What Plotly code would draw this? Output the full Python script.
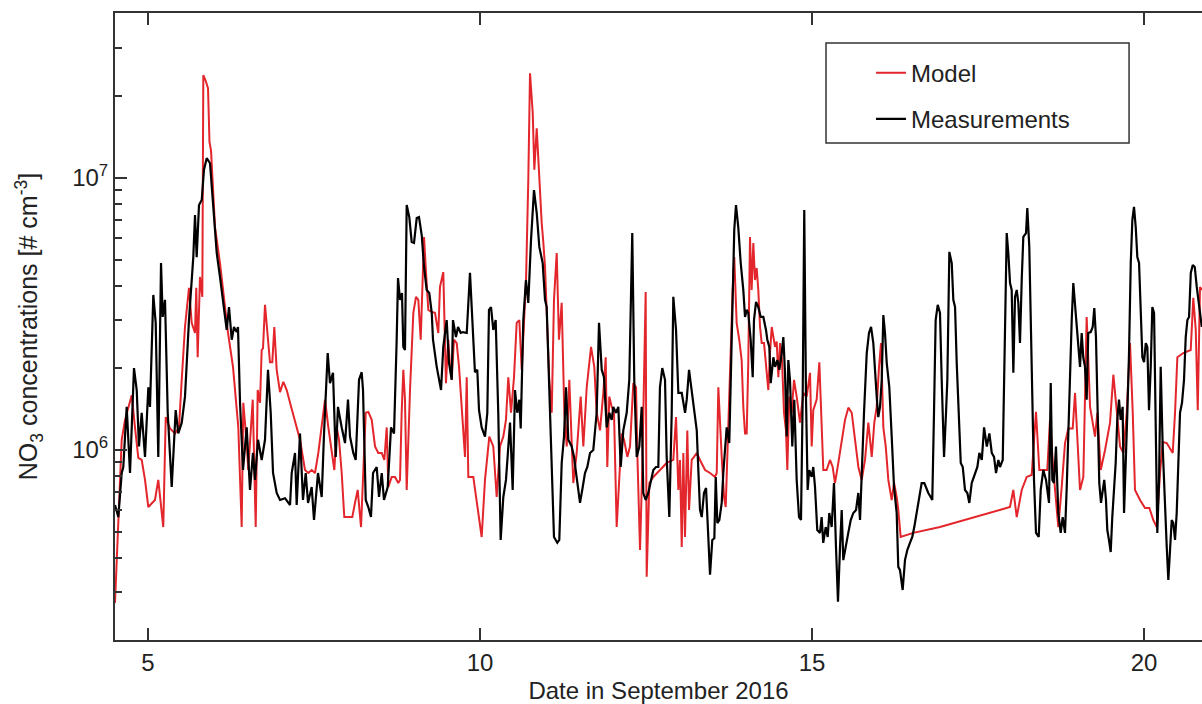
import plotly.graph_objects as go

# ---------------- data (days in September 2016, NO3 in # cm^-3) ----------------
meas_day = [
    4.503, 4.553, 4.604, 4.628, 4.679, 4.729, 4.789, 4.830, 4.864, 4.905,
    4.955, 5.005, 5.030, 5.080, 5.116, 5.155, 5.196, 5.221, 5.256, 5.297,
    5.357, 5.417, 5.456, 5.508, 5.557, 5.617, 5.682, 5.708, 5.733, 5.768,
    5.809, 5.843, 5.884, 5.934, 5.979, 6.035, 6.084, 6.145, 6.185, 6.220,
    6.261, 6.295, 6.336, 6.355, 6.386, 6.431, 6.486, 6.536, 6.581, 6.611,
    6.657, 6.712, 6.762, 6.807, 6.848, 6.883, 6.938, 6.988, 7.063, 7.139,
    7.164, 7.214, 7.239, 7.289, 7.334, 7.375, 7.410, 7.465, 7.500, 7.560,
    7.616, 7.651, 7.706, 7.741, 7.786, 7.827, 7.861, 7.917, 7.967, 8.012,
    8.042, 8.092, 8.128, 8.178, 8.218, 8.238, 8.279, 8.318, 8.358, 8.389,
    8.444, 8.479, 8.520, 8.554, 8.610, 8.660, 8.705, 8.745, 8.765, 8.795,
    8.825, 8.845, 8.870, 8.896, 8.935, 8.971, 9.006, 9.047, 9.081, 9.122,
    9.157, 9.197, 9.236, 9.273, 9.292, 9.348, 9.382, 9.413, 9.447, 9.498,
    9.533, 9.574, 9.593, 9.638, 9.669, 9.709, 9.744, 9.800, 9.849, 9.890,
    9.924, 9.959, 9.985, 10.025, 10.075, 10.110, 10.135, 10.166, 10.200, 10.236,
    10.275, 10.311, 10.351, 10.391, 10.426, 10.452, 10.492, 10.527, 10.561, 10.592,
    10.613, 10.652, 10.692, 10.727, 10.768, 10.813, 10.854, 10.893, 10.944, 10.979,
    11.004, 11.043, 11.080, 11.114, 11.164, 11.194, 11.230, 11.265, 11.295, 11.330,
    11.381, 11.416, 11.441, 11.480, 11.506, 11.547, 11.581, 11.616, 11.657, 11.706,
    11.757, 11.792, 11.833, 11.867, 11.908, 11.947, 11.983, 12.007, 12.048, 12.083,
    12.119, 12.158, 12.209, 12.248, 12.293, 12.323, 12.360, 12.399, 12.435, 12.459,
    12.495, 12.534, 12.570, 12.610, 12.650, 12.685, 12.710, 12.745, 12.786, 12.811,
    12.851, 12.887, 12.911, 12.952, 12.987, 13.038, 13.088, 13.113, 13.148, 13.188,
    13.223, 13.264, 13.288, 13.313, 13.339, 13.373, 13.404, 13.438, 13.464, 13.498,
    13.529, 13.550, 13.574, 13.604, 13.640, 13.664, 13.690, 13.715, 13.754, 13.775,
    13.805, 13.829, 13.855, 13.889, 13.926, 13.965, 13.991, 14.016, 14.040, 14.076,
    14.107, 14.126, 14.157, 14.191, 14.227, 14.267, 14.307, 14.327, 14.357, 14.378,
    14.418, 14.443, 14.478, 14.508, 14.544, 14.568, 14.593, 14.619, 14.643, 14.668,
    14.703, 14.733, 14.769, 14.804, 14.834, 14.859, 14.883, 14.909, 14.934, 14.958,
    14.995, 15.019, 15.045, 15.079, 15.120, 15.145, 15.169, 15.206, 15.236, 15.260,
    15.296, 15.331, 15.361, 15.391, 15.422, 15.447, 15.471, 15.512, 15.546, 15.583,
    15.622, 15.663, 15.697, 15.723, 15.748, 15.783, 15.824, 15.858, 15.889, 15.923,
    15.974, 15.998, 16.024, 16.050, 16.074, 16.099, 16.125, 16.164, 16.200, 16.235,
    16.275, 16.299, 16.325, 16.365, 16.400, 16.435, 16.475, 16.510, 16.540, 16.576,
    16.615, 16.651, 16.691, 16.727, 16.751, 16.787, 16.811, 16.837, 16.862, 16.893,
    16.927, 16.953, 16.988, 17.018, 17.038, 17.068, 17.104, 17.128, 17.154, 17.179,
    17.214, 17.240, 17.270, 17.304, 17.339, 17.369, 17.405, 17.455, 17.490, 17.520,
    17.557, 17.591, 17.632, 17.671, 17.707, 17.741, 17.771, 17.806, 17.831, 17.872,
    17.891, 17.917, 17.932, 17.956, 17.982, 18.007, 18.032, 18.057, 18.083, 18.107,
    18.132, 18.158, 18.182, 18.223, 18.242, 18.272, 18.308, 18.343, 18.373, 18.414,
    18.444, 18.483, 18.524, 18.550, 18.569, 18.595, 18.619, 18.644, 18.674, 18.709,
    18.745, 18.775, 18.810, 18.836, 18.860, 18.885, 18.911, 18.935, 18.961, 18.986,
    19.010, 19.036, 19.061, 19.085, 19.111, 19.136, 19.160, 19.197, 19.227, 19.251,
    19.276, 19.302, 19.326, 19.352, 19.377, 19.401, 19.427, 19.447, 19.472, 19.498,
    19.522, 19.548, 19.573, 19.597, 19.623, 19.648, 19.678, 19.699, 19.718, 19.749,
    19.774, 19.800, 19.824, 19.849, 19.875, 19.899, 19.925, 19.950, 19.975, 20.000,
    20.026, 20.050, 20.075, 20.101, 20.125, 20.151, 20.176, 20.200, 20.226, 20.251,
    20.281, 20.316, 20.342, 20.366, 20.392, 20.417, 20.441, 20.467, 20.492, 20.517,
    20.542, 20.572, 20.602, 20.628, 20.653, 20.678, 20.704, 20.734, 20.764, 20.794,
    20.834, 20.870,
]
meas_conc = [
    6.28e5, 5.67e5, 8.23e5, 8.66e5, 1.44e6, 8.23e5, 2.00e6, 1.66e6, 1.03e6, 1.37e6,
    9.43e5, 1.70e6, 1.44e6, 3.71e6, 2.93e6, 9.43e5, 4.86e6, 3.08e6, 3.56e6, 1.37e6,
    7.31e5, 1.40e6, 1.15e6, 1.26e6, 1.57e6, 3.00e6, 5.11e6, 7.29e6, 5.11e6, 7.94e6,
    8.28e6, 1.07e7, 1.18e7, 1.13e7, 8.07e6, 5.29e6, 4.32e6, 3.27e6, 2.76e6, 3.35e6,
    2.54e6, 2.83e6, 2.71e6, 2.83e6, 1.49e6, 8.44e5, 1.21e6, 7.13e5, 9.75e5, 7.76e5,
    1.09e6, 9.19e5, 1.09e6, 1.97e6, 1.37e6, 8.23e5, 6.95e5, 6.55e5, 6.65e5, 6.28e5,
    8.23e5, 9.75e5, 6.28e5, 1.15e6, 6.55e5, 8.23e5, 6.39e5, 7.31e5, 5.53e5, 8.23e5,
    6.72e5, 1.15e6, 2.27e6, 1.76e6, 1.92e6, 9.43e5, 1.44e6, 1.21e6, 1.06e6, 1.53e6,
    1.12e6, 9.75e5, 9.19e5, 1.81e6, 1.93e6, 1.66e6, 6.55e5, 6.17e5, 5.67e5, 8.23e5,
    8.66e5, 6.72e5, 8.23e5, 6.55e5, 7.31e5, 1.21e6, 1.15e6, 2.54e6, 4.28e6, 3.56e6,
    3.77e6, 2.39e6, 2.33e6, 7.94e6, 7.17e6, 5.81e6, 5.76e6, 7.11e6, 7.17e6, 6.16e6,
    4.70e6, 3.87e6, 3.77e6, 3.19e6, 2.54e6, 2.02e6, 1.81e6, 1.66e6, 2.39e6, 3.00e6,
    2.09e6, 1.81e6, 3.00e6, 2.60e6, 2.83e6, 2.69e6, 2.71e6, 2.69e6, 4.47e6, 2.83e6,
    1.93e6, 1.97e6, 1.40e6, 1.21e6, 1.12e6, 1.37e6, 3.27e6, 3.35e6, 2.76e6, 3.00e6,
    1.37e6, 4.67e5, 6.72e5, 7.76e5, 1.09e6, 1.26e6, 7.13e5, 1.66e6, 1.37e6, 1.53e6,
    1.20e6, 3.00e6, 4.21e6, 3.47e6, 5.90e6, 9.01e6, 7.42e6, 5.57e6, 4.86e6, 3.56e6,
    3.35e6, 1.70e6, 9.43e5, 4.79e5, 4.56e5, 4.67e5, 8.96e5, 1.12e6, 1.70e6, 1.09e6,
    1.03e6, 9.43e5, 8.44e5, 6.95e5, 6.39e5, 7.31e5, 8.23e5, 8.66e5, 9.75e5, 1.00e6,
    1.37e6, 2.93e6, 1.97e6, 1.85e6, 1.21e6, 1.37e6, 1.29e6, 1.44e6, 1.37e6, 1.44e6,
    8.66e5, 1.18e6, 1.37e6, 1.81e6, 6.26e6, 1.81e6, 9.43e5, 1.03e6, 1.44e6, 6.95e5,
    6.55e5, 6.95e5, 7.56e5, 8.44e5, 8.66e5, 8.66e5, 1.70e6, 2.00e6, 1.81e6, 9.43e5,
    5.67e5, 1.37e6, 3.65e6, 2.76e6, 1.62e6, 1.62e6, 1.37e6, 1.53e6, 1.97e6, 1.62e6,
    1.44e6, 1.18e6, 8.44e5, 6.02e5, 5.67e5, 6.95e5, 7.25e5, 5.08e5, 3.48e5, 4.67e5,
    4.74e5, 7.96e5, 5.39e5, 5.53e5, 6.39e5, 8.23e5, 1.03e6, 1.21e6, 1.06e6, 1.81e6,
    3.87e6, 6.43e6, 7.94e6, 6.59e6, 4.86e6, 3.87e6, 3.08e6, 3.27e6, 3.19e6, 2.54e6,
    1.85e6, 3.00e6, 3.50e6, 3.35e6, 3.08e6, 3.08e6, 2.76e6, 2.54e6, 2.39e6, 1.76e6,
    2.19e6, 2.02e6, 2.14e6, 1.97e6, 2.27e6, 2.60e6, 1.92e6, 1.12e6, 2.14e6, 1.81e6,
    1.03e6, 1.53e6, 7.76e5, 5.67e5, 5.53e5, 1.53e6, 7.61e6, 1.57e6, 7.13e5, 8.44e5,
    7.96e5, 8.66e5, 7.31e5, 5.08e5, 4.96e5, 5.67e5, 4.56e5, 5.21e5, 4.79e5, 5.87e5,
    5.21e5, 7.56e5, 4.40e5, 2.77e5, 4.40e5, 6.02e5, 3.94e5, 4.56e5, 4.96e5, 5.53e5,
    5.87e5, 6.02e5, 6.95e5, 5.53e5, 8.66e5, 1.37e6, 2.27e6, 2.69e6, 2.83e6, 2.47e6,
    1.57e6, 1.32e6, 1.44e6, 1.81e6, 3.13e6, 2.69e6, 2.09e6, 1.70e6, 1.12e6, 7.31e5,
    5.87e5, 3.72e5, 3.62e5, 3.06e5, 3.94e5, 4.29e5, 4.56e5, 4.79e5, 5.21e5, 5.87e5,
    6.55e5, 7.56e5, 7.56e5, 7.13e5, 6.95e5, 6.72e5, 6.55e5, 1.37e6, 3.00e6, 3.41e6,
    3.19e6, 1.81e6, 9.43e5, 1.37e6, 1.81e6, 5.34e6, 4.86e6, 3.56e6, 3.35e6, 2.09e6,
    1.15e6, 8.96e5, 8.66e5, 7.13e5, 6.95e5, 6.39e5, 7.56e5, 8.23e5, 8.66e5, 9.75e5,
    9.19e5, 1.21e6, 1.03e6, 1.15e6, 9.75e5, 9.43e5, 8.23e5, 9.19e5, 8.66e5, 9.19e5,
    1.85e6, 4.21e6, 6.26e6, 5.29e6, 4.10e6, 3.87e6, 1.92e6, 3.65e6, 3.87e6, 3.47e6,
    2.47e6, 4.21e6, 6.06e6, 6.26e6, 7.74e6, 5.57e6, 1.81e6, 7.76e5, 4.96e5, 4.79e5,
    7.13e5, 8.44e5, 7.76e5, 6.72e5, 6.39e5, 1.76e6, 7.76e5, 7.56e5, 1.03e6, 5.87e5,
    4.96e5, 5.67e5, 4.96e5, 7.31e5, 1.21e6, 1.85e6, 3.00e6, 4.10e6, 3.47e6, 2.93e6,
    2.54e6, 2.02e6, 2.69e6, 2.19e6, 2.02e6, 1.53e6, 2.69e6, 2.71e6, 2.83e6, 3.32e6,
    2.60e6, 1.44e6, 7.56e5, 6.39e5, 6.95e5, 7.76e5, 6.55e5, 5.08e5, 4.67e5, 4.22e5,
    5.67e5, 7.13e5, 8.96e5, 1.29e6, 1.53e6, 1.29e6, 1.44e6, 5.87e5, 7.76e5, 1.37e6,
    2.27e6, 4.86e6, 6.99e6, 7.81e6, 6.59e6, 5.11e6, 4.86e6, 3.19e6, 2.19e6, 2.10e6,
    2.47e6, 2.39e6, 1.40e6, 2.02e6, 3.35e6, 3.19e6, 1.37e6, 4.96e5, 7.76e5, 2.02e6,
    1.03e6, 5.87e5, 4.40e5, 3.33e5, 4.40e5, 5.53e5, 5.39e5, 4.67e5, 5.87e5, 9.75e5,
    1.37e6, 1.49e6, 1.81e6, 2.60e6, 3.00e6, 3.08e6, 4.47e6, 4.78e6, 4.70e6, 3.97e6,
    3.35e6, 2.83e6,
]

model_day = [
    4.503, 4.544, 4.604, 4.654, 4.703, 4.755, 4.804, 4.854, 4.905, 4.955,
    5.005, 5.056, 5.105, 5.155, 5.230, 5.267, 5.331, 5.407, 5.467, 5.508,
    5.557, 5.617, 5.658, 5.708, 5.727, 5.748, 5.783, 5.818, 5.833, 5.866,
    5.904, 5.926, 5.949, 6.009, 6.084, 6.160, 6.205, 6.280, 6.360, 6.411,
    6.435, 6.486, 6.510, 6.577, 6.622, 6.652, 6.687, 6.712, 6.732, 6.762,
    6.803, 6.837, 6.872, 6.902, 6.938, 6.988, 7.038, 7.089, 7.139, 7.214,
    7.289, 7.364, 7.414, 7.465, 7.515, 7.565, 7.616, 7.666, 7.716, 7.767,
    7.806, 7.842, 7.877, 7.917, 7.956, 8.012, 8.077, 8.117, 8.158, 8.208,
    8.242, 8.279, 8.318, 8.369, 8.419, 8.468, 8.520, 8.559, 8.595, 8.619,
    8.670, 8.720, 8.769, 8.795, 8.820, 8.845, 8.870, 8.896, 8.946, 8.996,
    9.036, 9.071, 9.107, 9.137, 9.157, 9.187, 9.221, 9.273, 9.322, 9.372,
    9.397, 9.447, 9.487, 9.522, 9.548, 9.574, 9.608, 9.649, 9.684, 9.724,
    9.774, 9.800, 9.824, 9.899, 9.950, 10.025, 10.075, 10.140, 10.200, 10.251,
    10.301, 10.351, 10.391, 10.426, 10.467, 10.512, 10.552, 10.592, 10.628, 10.663,
    10.693, 10.727, 10.738, 10.753, 10.794, 10.818, 10.854, 10.893, 10.929, 10.953,
    10.979, 11.013, 11.043, 11.080, 11.114, 11.155, 11.189, 11.230, 11.270, 11.306,
    11.345, 11.381, 11.405, 11.456, 11.516, 11.556, 11.607, 11.672, 11.721, 11.757,
    11.807, 11.857, 11.893, 11.917, 11.947, 11.983, 12.018, 12.058, 12.098, 12.134,
    12.169, 12.219, 12.259, 12.309, 12.350, 12.369, 12.410, 12.444, 12.495, 12.510,
    12.550, 12.610, 12.711, 12.811, 12.911, 12.952, 12.987, 13.012, 13.038, 13.062,
    13.087, 13.122, 13.148, 13.188, 13.223, 13.264, 13.313, 13.389, 13.464, 13.539,
    13.565, 13.589, 13.640, 13.675, 13.700, 13.740, 13.775, 13.805, 13.829, 13.865,
    13.904, 13.940, 13.965, 13.991, 14.016, 14.040, 14.066, 14.091, 14.116, 14.141,
    14.167, 14.191, 14.217, 14.242, 14.277, 14.307, 14.342, 14.367, 14.393, 14.418,
    14.443, 14.468, 14.493, 14.518, 14.548, 14.578, 14.608, 14.628, 14.658, 14.693,
    14.729, 14.769, 14.819, 14.869, 14.919, 14.970, 14.995, 15.019, 15.070, 15.110,
    15.135, 15.170, 15.220, 15.271, 15.311, 15.346, 15.396, 15.447, 15.497, 15.547,
    15.598, 15.648, 15.698, 15.748, 15.798, 15.848, 15.899, 15.938, 15.974, 16.009,
    16.039, 16.074, 16.110, 16.149, 16.200, 16.235, 16.275, 16.299, 16.335, 16.526,
    16.927, 17.981, 18.031, 18.083, 18.158, 18.233, 18.308, 18.373, 18.423, 18.543,
    18.584, 18.634, 18.709, 18.760, 18.810, 18.860, 18.926, 18.961, 18.996, 19.036,
    19.086, 19.136, 19.187, 19.262, 19.297, 19.348, 19.413, 19.488, 19.538, 19.588,
    19.639, 19.689, 19.739, 19.789, 19.830, 19.864, 19.940, 20.015, 20.080, 20.140,
    20.191, 20.241, 20.281, 20.342, 20.432, 20.467, 20.502, 20.592, 20.703, 20.742,
    20.779, 20.809, 20.843, 20.873,
]
model_conc = [
    2.74e5, 4.67e5, 1.09e6, 1.29e6, 1.44e6, 1.59e6, 1.21e6, 9.35e5, 9.19e5, 7.76e5,
    6.17e5, 6.39e5, 6.55e5, 7.76e5, 5.21e5, 1.32e6, 1.20e6, 1.15e6, 1.21e6, 1.81e6,
    2.83e6, 3.94e6, 2.93e6, 2.69e6, 3.94e6, 2.19e6, 4.32e6, 3.65e6, 2.38e7, 2.28e7,
    2.13e7, 1.35e7, 1.26e7, 6.59e6, 4.86e6, 3.35e6, 2.69e6, 2.02e6, 1.21e6, 5.21e5,
    1.49e6, 1.06e6, 8.44e5, 1.53e6, 5.21e5, 1.66e6, 1.49e6, 2.33e6, 2.36e6, 3.41e6,
    2.54e6, 2.10e6, 2.10e6, 2.83e6, 1.97e6, 1.63e6, 1.78e6, 1.66e6, 1.49e6, 1.26e6,
    1.09e6, 8.44e5, 8.23e5, 8.44e5, 8.23e5, 9.75e5, 1.21e6, 1.53e6, 1.21e6, 1.00e6,
    8.44e5, 1.21e6, 1.09e6, 8.23e5, 5.67e5, 5.67e5, 5.67e5, 6.39e5, 7.13e5, 5.21e5,
    8.23e5, 1.37e6, 1.38e6, 1.29e6, 1.03e6, 9.75e5, 9.75e5, 9.19e5, 1.21e6, 7.31e5,
    7.96e5, 7.96e5, 7.56e5, 7.76e5, 1.37e6, 1.97e6, 1.53e6, 7.13e5, 1.66e6, 3.19e6,
    3.65e6, 3.56e6, 2.54e6, 4.47e6, 6.06e6, 4.47e6, 3.27e6, 3.21e6, 3.19e6, 2.69e6,
    3.97e6, 4.50e6, 1.76e6, 2.54e6, 2.02e6, 1.81e6, 2.54e6, 2.47e6, 2.02e6, 1.44e6,
    9.43e5, 1.85e6, 7.96e5, 7.96e5, 6.55e5, 4.79e5, 7.76e5, 1.12e6, 1.03e6, 6.72e5,
    1.03e6, 1.12e6, 1.29e6, 1.85e6, 1.37e6, 1.85e6, 2.93e6, 3.00e6, 1.97e6, 3.00e6,
    4.21e6, 9.80e6, 1.77e7, 2.42e7, 1.73e7, 1.07e7, 1.52e7, 9.56e6, 6.82e6, 5.81e6,
    4.70e6, 2.83e6, 1.81e6, 1.37e6, 3.56e6, 5.29e6, 2.54e6, 3.47e6, 1.37e6, 1.03e6,
    1.81e6, 1.06e6, 7.56e5, 9.75e5, 1.57e6, 1.03e6, 1.70e6, 2.39e6, 2.02e6, 1.37e6,
    1.18e6, 1.62e6, 2.19e6, 8.66e5, 1.57e6, 1.44e6, 1.37e6, 5.21e5, 8.44e5, 1.15e6,
    1.09e6, 9.43e5, 1.03e6, 1.76e6, 1.70e6, 9.75e5, 4.29e5, 8.66e5, 3.80e6, 3.42e5,
    7.56e5, 7.96e5, 8.44e5, 8.96e5, 9.19e5, 1.32e6, 7.13e5, 9.19e5, 4.40e5, 9.75e5,
    4.79e5, 1.18e6, 6.02e5, 9.19e5, 9.43e5, 9.75e5, 9.19e5, 8.44e5, 8.23e5, 7.96e5,
    8.23e5, 1.70e6, 9.43e5, 6.72e5, 6.17e5, 1.29e6, 2.47e6, 3.87e6, 5.11e6, 2.93e6,
    2.54e6, 2.14e6, 1.44e6, 1.15e6, 1.15e6, 2.09e6, 6.06e6, 3.87e6, 5.76e6, 4.21e6,
    4.66e6, 3.87e6, 2.83e6, 2.47e6, 2.47e6, 2.09e6, 1.66e6, 2.27e6, 2.83e6, 2.60e6,
    2.39e6, 2.50e6, 1.85e6, 2.47e6, 2.14e6, 1.37e6, 1.18e6, 8.44e5, 1.57e6, 1.37e6,
    1.81e6, 1.57e6, 1.26e6, 1.62e6, 1.57e6, 1.92e6, 1.03e6, 1.40e6, 1.53e6, 2.10e6,
    1.37e6, 8.44e5, 8.44e5, 9.19e5, 8.66e5, 7.56e5, 8.96e5, 1.09e6, 1.29e6, 1.43e6,
    1.37e6, 1.09e6, 8.66e5, 7.76e5, 9.19e5, 1.26e6, 9.43e5, 1.26e6, 1.44e6, 2.02e6,
    2.47e6, 1.21e6, 1.03e6, 7.76e5, 6.55e5, 7.56e5, 6.72e5, 6.02e5, 4.79e5, 4.96e5,
    5.21e5, 6.17e5, 7.13e5, 5.67e5, 7.13e5, 7.96e5, 8.09e5, 1.38e6, 8.44e5, 8.44e5,
    1.29e6, 8.44e5, 5.21e5, 7.31e5, 1.06e6, 1.20e6, 1.20e6, 1.62e6, 1.09e6, 7.13e5,
    7.96e5, 3.08e6, 1.44e6, 1.12e6, 1.37e6, 8.44e5, 1.00e6, 1.26e6, 1.89e6, 1.37e6,
    1.03e6, 9.75e5, 1.37e6, 2.47e6, 1.37e6, 7.13e5, 6.55e5, 6.12e5, 6.12e5, 5.53e5,
    5.21e5, 8.23e5, 1.07e6, 1.06e6, 9.75e5, 1.37e6, 2.19e6, 2.27e6, 2.33e6, 3.62e6,
    2.76e6, 1.40e6, 3.97e6, 3.87e6,
]

series_names = ["Model", "Measurements"]
x_tick_vals = [5, 10, 15, 20]
y_tick_vals = [1e6, 1e7]
y_tick_text = ["10<sup>6</sup>", "10<sup>7</sup>"]
y_minor_vals = [2e5, 3e5, 4e5, 5e5, 6e5, 7e5, 8e5, 9e5,
                2e6, 3e6, 4e6, 5e6, 6e6, 7e6, 8e6, 9e6,
                2e7, 3e7, 4e7]
x_title = "Date in September 2016"
y_title = "NO<sub>3</sub> concentrations [# cm<sup>-3</sup>]"

if len(meas_day) != len(meas_conc) or len(model_day) != len(model_conc):
    raise ValueError(f"length mismatch {len(meas_day)} {len(meas_conc)} {len(model_day)} {len(model_conc)}")

FONT = "Liberation Sans, Arial, Helvetica, sans-serif"
AX = "#333333"
TXT = "#222222"
RED = "#e3262b"

fig = go.Figure()
fig.add_trace(go.Scatter(x=model_day, y=model_conc, mode="lines", name=series_names[0],
                         legendgroup="model", line=dict(color=RED, width=2)))
fig.add_trace(go.Scatter(x=meas_day, y=meas_conc, mode="lines", name=series_names[1],
                         legendgroup="meas", line=dict(color="black", width=2.2)))

fig.update_layout(
    width=1202, height=704, autosize=False,
    margin=dict(l=115, r=0, t=13, b=64, pad=0),
    paper_bgcolor="white", plot_bgcolor="white",
    font=dict(family=FONT, size=24, color=TXT),
    showlegend=True,
    legend=dict(x=0.6955, y=0.9400, xanchor="left", yanchor="top",
                bgcolor="rgba(0,0,0,0)", borderwidth=0,
                font=dict(family=FONT, size=24, color=TXT),
                tracegroupgap=12, itemwidth=30),
    xaxis=dict(range=[4.503, 20.873], tickmode="array", tickvals=x_tick_vals,
               ticks="inside", ticklen=12, tickwidth=2, tickcolor=AX,
               showline=True, linecolor=AX, linewidth=2, mirror="allticks",
               showgrid=False, zeroline=False, automargin=False,
               tickfont=dict(family=FONT, size=24, color=TXT),
               title=dict(text=x_title, font=dict(family=FONT, size=24, color=TXT), standoff=14)),
    yaxis=dict(type="log", range=[5.302, 7.605], tickmode="array",
               tickvals=y_tick_vals, ticktext=y_tick_text,
               ticks="inside", ticklen=12, tickwidth=2, tickcolor=AX,
               minor=dict(tickmode="array", tickvals=y_minor_vals, ticks="inside",
                          ticklen=7, tickwidth=1.5, tickcolor=AX, showgrid=False),
               showline=True, linecolor=AX, linewidth=2, mirror=False,
               showgrid=False, zeroline=False, automargin=False,
               tickfont=dict(family=FONT, size=24, color=TXT),
               title=dict(text=y_title, font=dict(family=FONT, size=25, color=TXT), standoff=27)),
    yaxis2=dict(type="log", range=[5.302, 7.605], overlaying="y", side="right", anchor="x",
                tickmode="array", tickvals=y_tick_vals, ticks="inside", ticklen=5,
                tickwidth=2, tickcolor=AX, showticklabels=False,
                showline=False, showgrid=False, zeroline=False),
    shapes=[dict(type="rect", xref="paper", yref="paper",
                 x0=0.6541, x1=0.9329, y0=0.7927, y1=0.9522,
                 line=dict(color=AX, width=1.5), fillcolor="white", layer="above")],
)

# remove the browser's default page margin so the 1202x704 figure fills the window exactly
fig.write_html("out.html",
               config={"displayModeBar": False},
               post_script="document.body.style.margin='0';document.body.style.overflow='hidden';")
